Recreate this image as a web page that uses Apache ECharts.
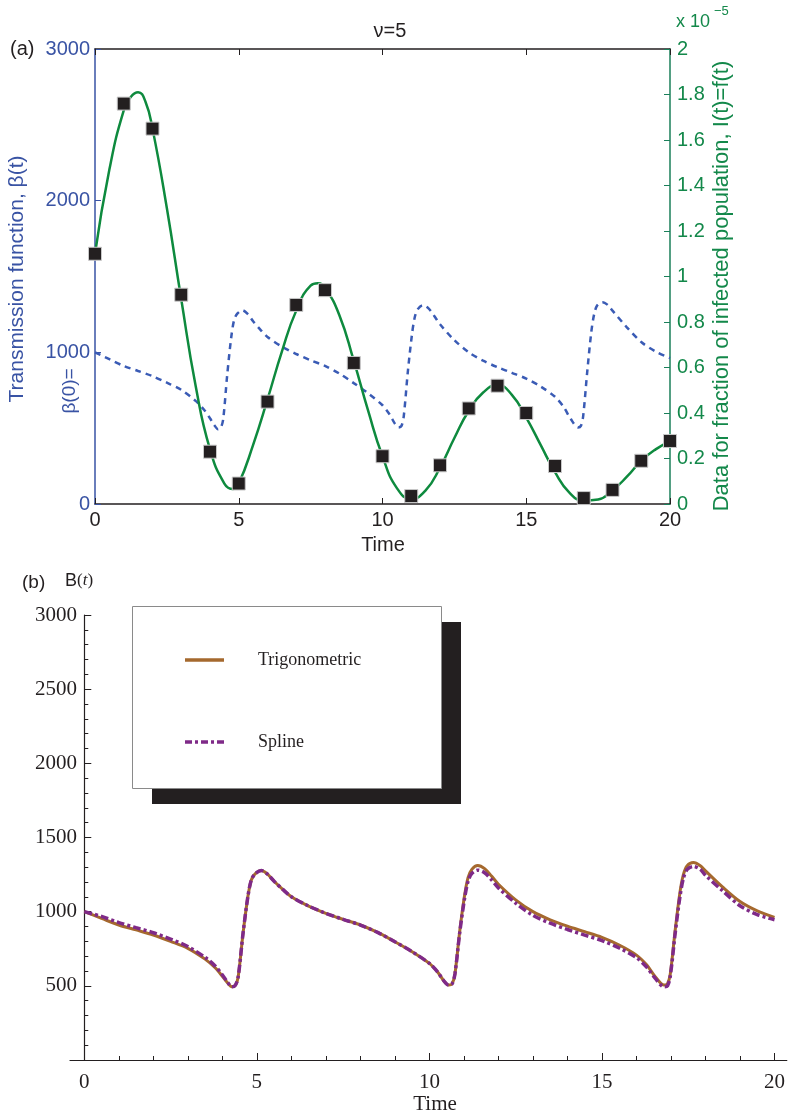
<!DOCTYPE html>
<html>
<head>
<meta charset="utf-8">
<script src="https://cdn.jsdelivr.net/npm/echarts@6/dist/echarts.min.js"></script>
<style>
html,body{margin:0;padding:0;background:#fff;}
#c{width:788px;height:1114px;}
</style>
</head>
<body>
<div id="c"></div>
<script>
// ---------- DATA ----------
// (a) observed infected fraction (x 10^-5) at integer times
const squareTime = [0,1,2,3,4,5,6,7,8,9,10,11,12,13,14,15,16,17,18,19,20];
const squareValue = [1.10,1.76,1.65,0.92,0.23,0.09,0.45,0.875,0.94,0.62,0.21,0.035,0.17,0.42,0.52,0.40,0.167,0.026,0.062,0.19,0.277];
// (a) fitted infected curve I(t)=f(t) (x 10^-5)
const fitTime = [0,0.5,1,1.25,1.5,1.75,2,2.5,3,3.5,4,4.5,4.8,5,5.5,6,6.5,7,7.5,7.75,8,8.5,9,9.5,10,10.5,11,11.5,12,12.5,13,13.5,14,14.5,15,15.5,16,16.5,17,17.5,18,18.5,19,19.5,20];
const fitValue = [1.10,1.47,1.73,1.79,1.81,1.77,1.65,1.30,0.90,0.52,0.24,0.09,0.066,0.09,0.26,0.46,0.67,0.85,0.96,0.97,0.95,0.83,0.63,0.41,0.21,0.07,0.022,0.06,0.16,0.29,0.41,0.49,0.523,0.48,0.38,0.26,0.14,0.05,0.015,0.02,0.06,0.12,0.19,0.24,0.275];
// transmission function beta(t) / B(t)
const betaTime = [0,0.5,1,1.5,2,2.5,3,3.5,3.8,4,4.15,4.28,4.38,4.46,4.6,4.74,4.84,4.95,5.13,5.3,5.5,5.75,6,6.5,7,7.5,8,8.5,9,9.5,10,10.25,10.43,10.56,10.66,10.74,10.88,11.02,11.12,11.23,11.4,11.6,11.8,12,12.5,13,13.5,14,14.5,15,15.5,16,16.3,16.55,16.8,16.9,16.98,17.12,17.26,17.36,17.47,17.65,17.85,18,18.5,19,19.5,20];
const trigValue = [1000,955,910,877,843,800,753,680,620,565,520,493,505,561,854,1101,1214,1255,1277,1255,1205,1150,1101,1038,989,948,910,860,797,730,651,590,530,505,515,580,870,1110,1230,1285,1311,1290,1240,1185,1080,1000,945,902,865,827,775,707,640,560,505,515,580,870,1130,1250,1310,1331,1310,1275,1165,1068,1005,962];
const splineValue = [1000,968,926,892,858,815,765,692,632,575,525,493,505,561,854,1101,1214,1255,1277,1255,1205,1150,1101,1038,989,948,910,860,797,730,651,590,530,505,515,580,860,1090,1205,1258,1280,1262,1215,1160,1058,975,922,880,842,805,755,690,625,548,493,500,565,850,1100,1225,1285,1305,1285,1245,1140,1040,980,946];
// tick labels
const botXMajor = [0,5,10,15,20];
const botXMinor = [1,2,3,4,6,7,8,9,11,12,13,14,16,17,18,19];
const seriesNames = ['Trigonometric','Spline'];

const zip = (a,b) => a.map((v,i)=>[v,b[i]]);

const SANS = 'Liberation Sans, Arial, Helvetica, sans-serif';
const SERIF = 'Liberation Serif, Times New Roman, serif';
const BLUE = '#3953a4';
const GREEN = '#13884a';
const DARK = '#231f20';
const BROWN = '#a5692e';
const PURPLE = '#7f2a88';

const chart = echarts.init(document.getElementById('c'), null, {renderer:'canvas'});

const option = {
  animation: false,
  backgroundColor: '#fff',
  title: {
    text: 'ν=5', left: 385, top: 16, textAlign: 'center',
    textStyle: {fontFamily: SANS, fontSize: 20, fontWeight: 'normal', color: DARK}
  },
  grid: [
    {left: 95, top: 49, width: 575, height: 455},
    {left: 70, top: 615, width: 718, height: 445}
  ],
  xAxis: [
    {gridIndex:0, type:'value', min:0, max:20, interval:5, position:'bottom',
     axisLine:{show:true, onZero:false, lineStyle:{color:DARK, width:1.5}},
     axisTick:{show:true, inside:true, length:6, lineStyle:{color:DARK}},
     axisLabel:{fontFamily:SANS, fontSize:20, color:DARK, margin:6},
     splitLine:{show:false}},
    {gridIndex:0, type:'value', min:0, max:20, interval:5, position:'top',
     axisLine:{show:true, onZero:false, lineStyle:{color:DARK, width:1.5}},
     axisTick:{show:true, inside:true, length:6, lineStyle:{color:DARK}},
     axisLabel:{show:false}, splitLine:{show:false}},
    {gridIndex:1, type:'value', min:-0.414, max:20.356, position:'bottom',
     axisLine:{show:true, lineStyle:{color:DARK, width:1.2}},
     axisTick:{show:true, inside:true, length:7, customValues: botXMajor, lineStyle:{color:DARK}},
     axisLabel:{fontFamily:SERIF, fontSize:21, color:DARK, margin:12, customValues: botXMajor},
     splitLine:{show:false}},
    {gridIndex:1, type:'value', min:-0.414, max:20.356, position:'bottom',
     axisLine:{show:false},
     axisTick:{show:true, inside:true, length:4, customValues: botXMinor, lineStyle:{color:DARK}},
     axisLabel:{show:false}, splitLine:{show:false}}
  ],
  yAxis: [
    {gridIndex:0, type:'value', min:0, max:3000, interval:1000, position:'left',
     axisLine:{show:true, onZero:false, lineStyle:{color:BLUE, width:1.5}},
     axisTick:{show:true, inside:true, length:6, lineStyle:{color:BLUE}},
     axisLabel:{fontFamily:SANS, fontSize:20, color:BLUE, margin:5, formatter: v => String(v)},
     splitLine:{show:false}},
    {gridIndex:0, type:'value', min:0, max:2, interval:0.2, position:'right',
     axisLine:{show:true, onZero:false, lineStyle:{color:'#1b7f5a', width:1.5}},
     axisTick:{show:true, inside:true, length:6, lineStyle:{color:'#1b7f5a'}},
     axisLabel:{fontFamily:SANS, fontSize:20, color:GREEN, margin:7,
       formatter: v => String(+v.toFixed(1))},
     splitLine:{show:false}},
    {gridIndex:1, type:'value', min:0, max:3000, interval:500, position:'left',
     axisLine:{show:true, onZero:true, lineStyle:{color:DARK, width:1.2}},
     axisTick:{show:true, inside:true, length:7, lineStyle:{color:DARK}},
     minorTick:{show:true, splitNumber:5, length:4, lineStyle:{color:DARK}},
     axisLabel:{fontFamily:SERIF, fontSize:21, color:DARK, margin:-7,
       formatter: v => v === 0 ? '' : String(v)},
     splitLine:{show:false}}
  ],
  legend: {
    data: [
      {name: seriesNames[0], icon: 'path://M0,0h39v3.5h-39z', itemStyle:{color:BROWN}},
      {name: seriesNames[1], icon: 'path://M0,0h7v3.5h-7zM10,0h3v3.5h-3zM16,0h7v3.5h-7zM26,0h3v3.5h-3zM32,0h7v3.5h-7z', itemStyle:{color:PURPLE}}
    ],
    orient:'vertical', left:180, top:646,
    itemWidth:39, itemHeight:20, itemGap:64, selectedMode:false,
    textStyle:{fontFamily:SERIF, fontSize:18, color:DARK, padding:[0,0,0,29]},
    z: 10
  },
  graphic: [
    {type:'rect', z:1, shape:{x:152, y:622, width:309, height:182}, style:{fill:DARK}},
    {type:'rect', z:2, shape:{x:132.5, y:606.5, width:309, height:182}, style:{fill:'#fff', stroke:'#8a8a8a', lineWidth:1}},
    {type:'text', x:10, y:49, style:{text:'(a)', fontFamily:SANS, fontSize:20, fill:DARK, verticalAlign:'middle'}},
    {type:'text', x:676, y:22, style:{text:'x 10', fontFamily:SANS, fontSize:18, fill:GREEN, verticalAlign:'middle'}},
    {type:'text', x:714, y:11, style:{text:'−5', fontFamily:SANS, fontSize:13, fill:GREEN, verticalAlign:'middle'}},
    {type:'text', x:17, y:279, rotation:Math.PI/2,
     style:{text:'Transmission function, β(t)', fontFamily:SANS, fontSize:21, fill:BLUE, align:'center', verticalAlign:'middle'}},
    {type:'text', x:70, y:391, rotation:Math.PI/2,
     style:{text:'β(0)=', fontFamily:SANS, fontSize:19, fill:BLUE, align:'center', verticalAlign:'middle'}},
    {type:'text', x:722, y:286, rotation:Math.PI/2,
     style:{text:'Data for fraction of infected population, I(t)=f(t)', fontFamily:SANS, fontSize:22, fill:GREEN, align:'center', verticalAlign:'middle'}},
    {type:'text', x:383, y:545, style:{text:'Time', fontFamily:SANS, fontSize:20, fill:DARK, align:'center', verticalAlign:'middle'}},
    {type:'text', x:22, y:583, style:{text:'(b)', fontFamily:SANS, fontSize:19, fill:DARK, verticalAlign:'middle'}},
    {type:'text', x:65, y:581, style:{
      text:'{b|B}{p|(}{t|t}{p|)}', verticalAlign:'middle',
      rich:{b:{fontFamily:SANS, fontSize:18, fill:DARK}, p:{fontFamily:SERIF, fontSize:17, fill:DARK}, t:{fontFamily:SERIF, fontStyle:'italic', fontSize:17, fill:DARK}}}},
    {type:'text', x:435, y:1104, style:{text:'Time', fontFamily:SERIF, fontSize:21, fill:DARK, align:'center', verticalAlign:'middle'}}
  ],
  series: [
    {type:'line', name:'beta', xAxisIndex:0, yAxisIndex:0, data: zip(betaTime, trigValue),
     smooth:0.3, showSymbol:false, symbol:'none',
     lineStyle:{color:'#3a5bb5', width:2.5, type:[6,5]}, z:2},
    {type:'line', name:'fit', xAxisIndex:0, yAxisIndex:1, data: zip(fitTime, fitValue),
     smooth:0.5, showSymbol:false, symbol:'none',
     lineStyle:{color:'#0e8a3e', width:2.5}, z:3},
    {type:'scatter', name:'data', xAxisIndex:0, yAxisIndex:1, data: zip(squareTime, squareValue),
     symbol:'rect', symbolSize:13,
     itemStyle:{color:DARK, opacity:1, borderColor:'#c8c8c8', borderWidth:1}, z:4},
    {type:'line', name:seriesNames[0], xAxisIndex:2, yAxisIndex:2, data: zip(betaTime, trigValue),
     smooth:0.3, showSymbol:false, symbol:'none', color:BROWN,
     lineStyle:{color:BROWN, width:3}, z:3},
    {type:'line', name:seriesNames[1], xAxisIndex:2, yAxisIndex:2, data: zip(betaTime, splineValue),
     smooth:0.3, showSymbol:false, symbol:'none', color:PURPLE,
     lineStyle:{color:PURPLE, width:3.5, type:[8,3,3,3]}, z:4}
  ]
};
chart.setOption(option);
</script>
</body>
</html>
